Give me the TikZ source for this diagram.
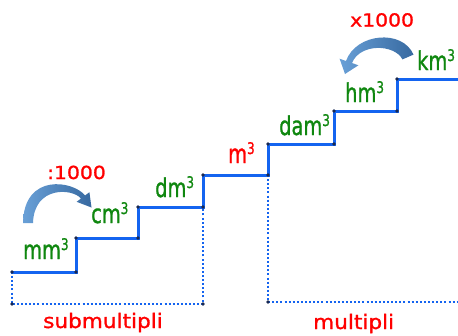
\documentclass[tikz,border=0pt]{standalone}
\usepackage{graphicx}
\usepackage{fontspec}
\setmainfont{DejaVu Sans Condensed}[FakeBold=1.2]
\newfontfamily\widefont{DejaVu Sans}[FakeBold=1.2]
\definecolor{stairblue}{RGB}{20,100,240}
\definecolor{dotnavy}{RGB}{25,40,80}
\definecolor{labgreen}{RGB}{15,135,15}
\definecolor{labred}{RGB}{255,0,0}
\definecolor{arrowlight}{RGB}{105,160,215}
\definecolor{arrowdark}{RGB}{55,105,160}
% unit symbol with a raised cube exponent, narrowed a little
\newcommand\cubed{\raisebox{9pt}{\fontsize{16}{16}\selectfont 3}}
\newcommand\unitname[1]{\scalebox{0.83}[1]{#1\cubed}}
\newcommand\groupname[1]{\scalebox{1.08}[1]{#1}}
\newcommand\factor[1]{\scalebox{1.13}[1]{#1}}
\tikzset{
  stair/.style={stairblue, line width=3pt, line join=miter},
  guide/.style={stairblue, line width=2.1pt, dash pattern=on 2pt off 2.1pt},
  corner/.style={fill=dotnavy},
  unitlab/.style={anchor=base west, inner sep=0pt, text=labgreen, font=\fontsize{26}{26}\selectfont},
  redlab/.style={anchor=base west, inner sep=0pt, text=labred, font=\fontsize{26}{26}\selectfont},
  factorlab/.style={anchor=base west, inner sep=0pt, text=labred, font=\widefont\fontsize{18}{18}\selectfont},
  grouplab/.style={anchor=base west, inner sep=0pt, text=labred, font=\widefont\fontsize{20}{20}\selectfont},
  bentarrow/.style={left color=arrowlight, right color=arrowdark}
}
\begin{document}
\begin{tikzpicture}[x=1pt, y=-1pt]
\useasboundingbox (0,0) rectangle (458,335);

% corners of the staircase
\coordinate (s0) at (12,272);
\coordinate (s1) at (76,272);
\coordinate (s2) at (76,238);
\coordinate (s3) at (138,238);
\coordinate (s4) at (138,207);
\coordinate (s5) at (203,207);
\coordinate (s6) at (203,175);
\coordinate (s7) at (268,175);
\coordinate (s8) at (268,144);
\coordinate (s9) at (334,144);
\coordinate (s10) at (334,111);
\coordinate (s11) at (397,111);
\coordinate (s12) at (397,79);
\coordinate (s13) at (458,79);
% feet of the dotted brackets
\coordinate (b0) at (12,304);
\coordinate (b1) at (203,304);
\coordinate (b2) at (268,302);
\coordinate (b3) at (458,302);

% dotted brackets
\draw[guide] (s0) -- (b0) -- (b1) -- (s5);
\draw[guide] (s7) -- (b2) -- (b3);

% the staircase
\draw[stair] (s0) -- (s1) -- (s2) -- (s3) -- (s4) -- (s5) -- (s6) -- (s7)
  -- (s8) -- (s9) -- (s10) -- (s11) -- (s12) -- (s13);

% corner dots
\foreach \p in {s0,s1,s2,s3,s4,s5,s6,s7,s8,s9,s10,s11,s12,b0,b1,b2}
  \fill[corner] (\p) circle (1.8pt);

% unit labels
\node[unitlab] (mm) at (23,259) {\unitname{mm}};
\node[unitlab] (cm) at (91,223) {\unitname{cm}};
\node[unitlab] (dm) at (155,197) {\unitname{dm}};
\node[redlab]  (m)  at (228,163) {\unitname{m}};
\node[unitlab] (dam) at (279,135) {\unitname{dam}};
\node[unitlab] (hm) at (345,102) {\unitname{hm}};
\node[unitlab] (km) at (417,70) {\unitname{km}};

% conversion factors
\node[factorlab] (div) at (47,179) {\factor{:1000}};
\node[factorlab] (mul) at (350,26.5) {\factor{x1000}};

% group names
\node[grouplab] (sub) at (43,328) {\groupname{submultipli}};
\node[grouplab] (mult) at (313,329) {\groupname{multipli}};

% curved block arrows
\shade[bentarrow] (23,223) .. controls (24,172) and (74,181) .. (85,195.5)
  -- (89.4,192.2) -- (91.5,207.5) -- (76.6,201.8) -- (81,198.5)
  .. controls (72,188) and (34,186) .. (33,223) -- cycle;
\shade[bentarrow] (413.5,54.6) .. controls (402.3,28.8) and (356,33) .. (346,61)
  -- (339.6,58.7) -- (345,74) -- (358.4,65.3) -- (352,63)
  .. controls (360,43) and (394.5,44) .. (402.5,59.4) -- cycle;
\end{tikzpicture}
\end{document}
